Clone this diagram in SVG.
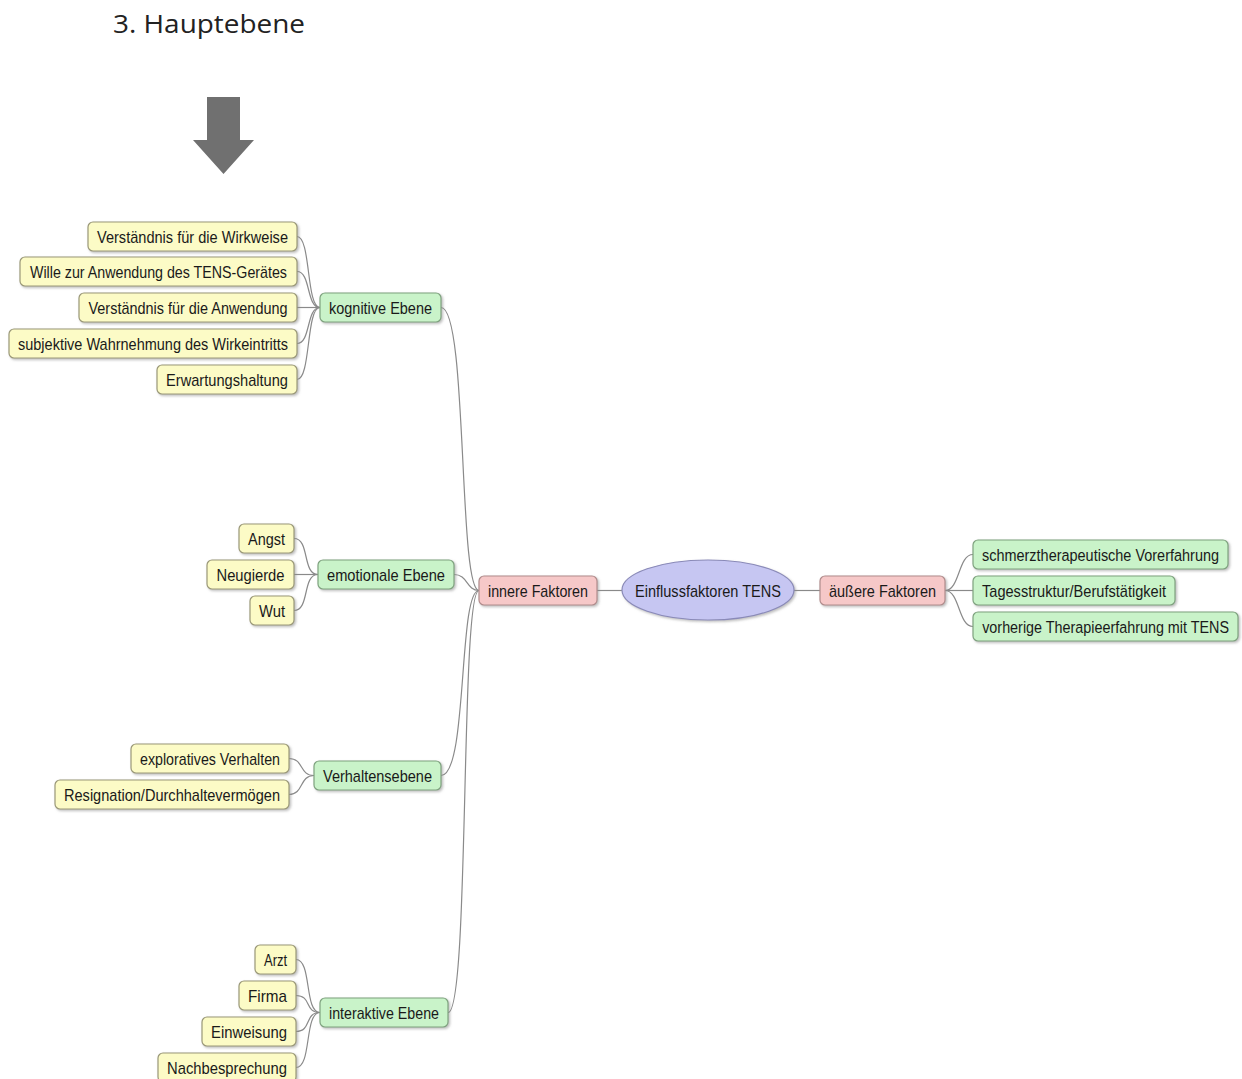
<svg xmlns="http://www.w3.org/2000/svg" width="1242" height="1079" viewBox="0 0 1242 1079">
<style>
.t{font-family:"Liberation Sans",Arial,sans-serif;font-size:17px;fill:#1a1a1a;text-anchor:middle}
.r{text-anchor:end}
.y{fill:#fcfbc6;stroke:#9a9878;stroke-width:1.2}
.g{fill:#c9f3c9;stroke:#7fa27f;stroke-width:1.2}
.p{fill:#f6c8c8;stroke:#b08c8c;stroke-width:1.2}
.e{fill:#c6c6f2;stroke:#8a8ab8;stroke-width:1.2}
.c{fill:none;stroke:#8a8a8a;stroke-width:1.2}
</style>
<defs>
<filter id="sh" x="-10%" y="-20%" width="130%" height="160%">
<feDropShadow dx="1.5" dy="1.5" stdDeviation="1" flood-color="#888" flood-opacity="0.55"/>
</filter>
</defs>
<rect width="1242" height="1079" fill="#fff"/>
<text x="113" y="33" font-family="'Open Sans','Liberation Sans',sans-serif" font-size="25" fill="#222" textLength="192" lengthAdjust="spacingAndGlyphs">3. Hauptebene</text>
<polygon points="207,97 240,97 240,140 254,140 223.5,174 193,140 207,140" fill="#707070"/>

<g id="connectors">
<path class="c" d="M297,236.5 C311,236.5 306,307.5 320,307.5"/>
<path class="c" d="M297,271.5 C311,271.5 306,307.5 320,307.5"/>
<path class="c" d="M297,307.5 L320,307.5"/>
<path class="c" d="M297,343.5 C311,343.5 306,307.5 320,307.5"/>
<path class="c" d="M297,379.5 C311,379.5 306,307.5 320,307.5"/>
<path class="c" d="M294,538.5 C310,538.5 302,574.5 318,574.5"/>
<path class="c" d="M294,574.5 L318,574.5"/>
<path class="c" d="M294,610.5 C310,610.5 302,574.5 318,574.5"/>
<path class="c" d="M289,758.5 C304,758.5 299,775.5 314,775.5"/>
<path class="c" d="M289,794.5 C304,794.5 299,775.5 314,775.5"/>
<path class="c" d="M296,959.5 C312,959.5 304,1012.5 320,1012.5"/>
<path class="c" d="M296,995.5 C312,995.5 304,1012.5 320,1012.5"/>
<path class="c" d="M296,1031.5 C312,1031.5 304,1012.5 320,1012.5"/>
<path class="c" d="M296,1067.5 C312,1067.5 304,1012.5 320,1012.5"/>
<path class="c" d="M441,307.5 C468,307.5 458,590.5 479,590.5"/>
<path class="c" d="M454,574.5 C468,574.5 466,590.5 479,590.5"/>
<path class="c" d="M441,775.5 C468,775.5 458,590.5 479,590.5"/>
<path class="c" d="M448,1012.5 C470,1012.5 460,590.5 479,590.5"/>
<path class="c" d="M597,590.5 L622,590.5"/>
<path class="c" d="M794,590.5 L820,590.5"/>
<path class="c" d="M945,590.5 C960,590.5 958,554.5 973,554.5"/>
<path class="c" d="M945,590.5 L973,590.5"/>
<path class="c" d="M945,590.5 C960,590.5 958,626.5 973,626.5"/>
</g>

<g id="n-center"><ellipse class="e" cx="708" cy="590" rx="86" ry="30" filter="url(#sh)"/><text class="t" x="708" y="597" textLength="146" lengthAdjust="spacingAndGlyphs">Einflussfaktoren TENS</text></g>

<g id="n-innere"><rect class="p" x="479" y="576" width="118" height="29" rx="5" filter="url(#sh)"/><text class="t" x="538" y="597" textLength="100" lengthAdjust="spacingAndGlyphs">innere Faktoren</text></g>
<g id="n-aeussere"><rect class="p" x="820" y="576" width="125" height="29" rx="5" filter="url(#sh)"/><text class="t" x="882.5" y="597" textLength="107" lengthAdjust="spacingAndGlyphs">äußere Faktoren</text></g>

<g id="n-kognitiv"><rect class="g" x="320" y="293" width="121" height="29" rx="5" filter="url(#sh)"/><text class="t" x="380.5" y="314" textLength="103" lengthAdjust="spacingAndGlyphs">kognitive Ebene</text></g>
<g id="n-emotional"><rect class="g" x="318" y="560" width="136" height="29" rx="5" filter="url(#sh)"/><text class="t" x="386" y="581" textLength="118" lengthAdjust="spacingAndGlyphs">emotionale Ebene</text></g>
<g id="n-verhalten"><rect class="g" x="314" y="761" width="127" height="29" rx="5" filter="url(#sh)"/><text class="t" x="377.5" y="782" textLength="109" lengthAdjust="spacingAndGlyphs">Verhaltensebene</text></g>
<g id="n-interaktiv"><rect class="g" x="320" y="998" width="128" height="29" rx="5" filter="url(#sh)"/><text class="t" x="384" y="1019" textLength="110" lengthAdjust="spacingAndGlyphs">interaktive Ebene</text></g>

<g id="n-k1"><rect class="y" x="88" y="222" width="209" height="29" rx="5" filter="url(#sh)"/><text class="t" x="192.5" y="243" textLength="191" lengthAdjust="spacingAndGlyphs">Verständnis für die Wirkweise</text></g>
<g id="n-k2"><rect class="y" x="20" y="257" width="277" height="29" rx="5" filter="url(#sh)"/><text class="t" x="158.5" y="278" textLength="257" lengthAdjust="spacingAndGlyphs">Wille zur Anwendung des TENS-Gerätes</text></g>
<g id="n-k3"><rect class="y" x="79" y="293" width="218" height="29" rx="5" filter="url(#sh)"/><text class="t" x="188" y="314" textLength="199" lengthAdjust="spacingAndGlyphs">Verständnis für die Anwendung</text></g>
<g id="n-k4"><rect class="y" x="9" y="329" width="288" height="29" rx="5" filter="url(#sh)"/><text class="t" x="153" y="350" textLength="270" lengthAdjust="spacingAndGlyphs">subjektive Wahrnehmung des Wirkeintritts</text></g>
<g id="n-k5"><rect class="y" x="157" y="365" width="140" height="29" rx="5" filter="url(#sh)"/><text class="t" x="227" y="386" textLength="122" lengthAdjust="spacingAndGlyphs">Erwartungshaltung</text></g>

<g id="n-e1"><rect class="y" x="239" y="524" width="55" height="29" rx="5" filter="url(#sh)"/><text class="t" x="266.5" y="545" textLength="37" lengthAdjust="spacingAndGlyphs">Angst</text></g>
<g id="n-e2"><rect class="y" x="207" y="560" width="87" height="29" rx="5" filter="url(#sh)"/><text class="t" x="250.5" y="581" textLength="68" lengthAdjust="spacingAndGlyphs">Neugierde</text></g>
<g id="n-e3"><rect class="y" x="250" y="596" width="44" height="29" rx="5" filter="url(#sh)"/><text class="t" x="272" y="617" textLength="26" lengthAdjust="spacingAndGlyphs">Wut</text></g>

<g id="n-v1"><rect class="y" x="131" y="744" width="158" height="29" rx="5" filter="url(#sh)"/><text class="t" x="210" y="765" textLength="140" lengthAdjust="spacingAndGlyphs">exploratives Verhalten</text></g>
<g id="n-v2"><rect class="y" x="55" y="780" width="234" height="29" rx="5" filter="url(#sh)"/><text class="t" x="172" y="801" textLength="216" lengthAdjust="spacingAndGlyphs">Resignation/Durchhaltevermögen</text></g>

<g id="n-i1"><rect class="y" x="255" y="945" width="41" height="29" rx="5" filter="url(#sh)"/><text class="t" x="275.5" y="966" textLength="23" lengthAdjust="spacingAndGlyphs">Arzt</text></g>
<g id="n-i2"><rect class="y" x="239" y="981" width="57" height="29" rx="5" filter="url(#sh)"/><text class="t" x="267.5" y="1002" textLength="39" lengthAdjust="spacingAndGlyphs">Firma</text></g>
<g id="n-i3"><rect class="y" x="202" y="1017" width="94" height="29" rx="5" filter="url(#sh)"/><text class="t" x="249" y="1038" textLength="76" lengthAdjust="spacingAndGlyphs">Einweisung</text></g>
<g id="n-i4"><rect class="y" x="158" y="1053" width="138" height="29" rx="5" filter="url(#sh)"/><text class="t" x="227" y="1074" textLength="120" lengthAdjust="spacingAndGlyphs">Nachbesprechung</text></g>

<g id="n-a1"><rect class="g" x="973" y="540" width="255" height="29" rx="5" filter="url(#sh)"/><text class="t r" transform="translate(1219,561) scale(0.86,1)" textLength="275.6" lengthAdjust="spacingAndGlyphs">schmerztherapeutische Vorerfahrung</text></g>
<g id="n-a2"><rect class="g" x="973" y="576" width="202" height="29" rx="5" filter="url(#sh)"/><text class="t r" x="1166" y="597" textLength="184" lengthAdjust="spacingAndGlyphs">Tagesstruktur/Berufstätigkeit</text></g>
<g id="n-a3"><rect class="g" x="973" y="612" width="265" height="29" rx="5" filter="url(#sh)"/><text class="t r" transform="translate(1229,633) scale(0.86,1)" textLength="287" lengthAdjust="spacingAndGlyphs">vorherige Therapieerfahrung mit TENS</text></g>
</svg>
